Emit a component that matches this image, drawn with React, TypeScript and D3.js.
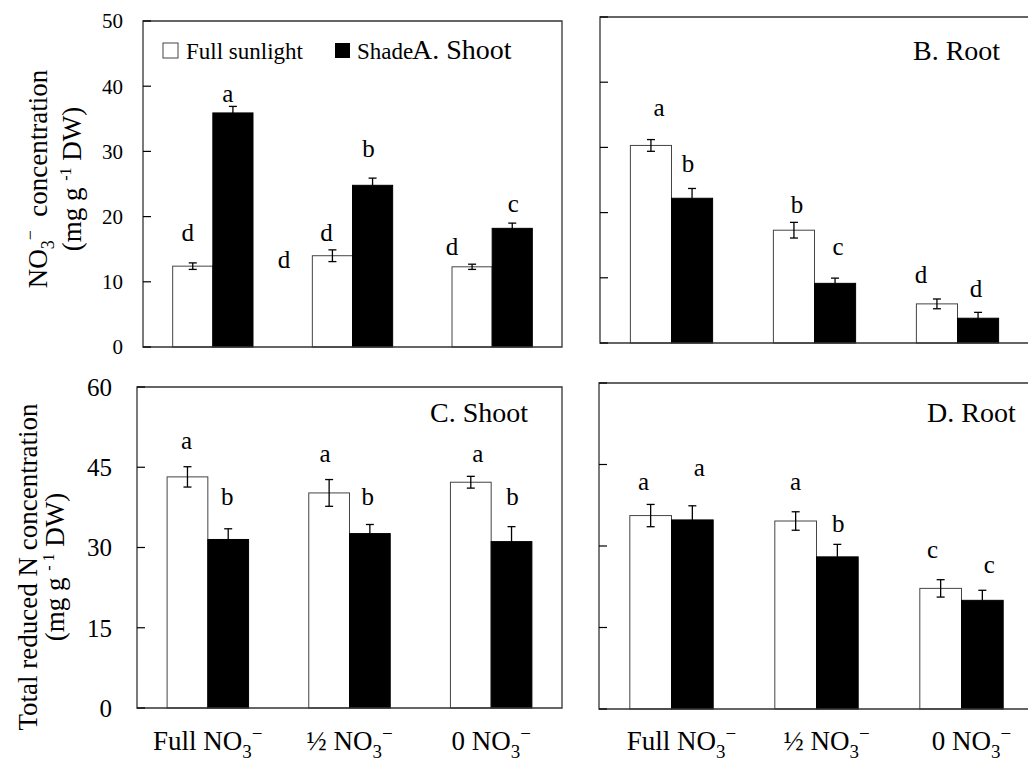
import React from 'react'
import * as d3 from 'd3'

const groups = ['Full', 'Half', 'Zero']

// A. Shoot nitrate (mg g-1 DW)
const sunA = [12.4, 14.0, 12.3]
const sunErrA = [0.5, 0.9, 0.4]
const shadeA = [35.9, 24.8, 18.2]
const shadeErrA = [1.0, 1.1, 0.8]

// B. Root nitrate
const sunB = [30.3, 17.3, 6.0]
const sunErrB = [0.9, 1.2, 0.75]
const shadeB = [22.2, 9.15, 3.8]
const shadeErrB = [1.5, 0.8, 0.9]

// C. Shoot total reduced N
const sunC = [43.2, 40.2, 42.2]
const sunErrC = [1.9, 2.5, 1.1]
const shadeC = [31.5, 32.6, 31.1]
const shadeErrC = [2.0, 1.7, 2.8]

// D. Root total reduced N
const sunD = [35.6, 34.6, 22.2]
const sunErrD = [2.05, 1.7, 1.6]
const shadeD = [34.8, 28.0, 20.0]
const shadeErrD = [2.6, 2.3, 1.85]

// significance letters: [group, series(0 sun / 1 shade), letter, level in data units]
type Letter = [number, number, string, number]
const lettersA: Letter[] = [
  [0, 0, 'd', 16.3], [0, 1, 'a', 37.6], [1, 0, 'd', 16.3],
  [1, 1, 'b', 29.1], [2, 0, 'd', 14.1], [2, 1, 'c', 20.7],
]
const lettersB: Letter[] = [
  [0, 0, 'a', 34.8], [0, 1, 'b', 26.3], [1, 0, 'b', 20.0],
  [1, 1, 'c', 13.5], [2, 0, 'd', 9.25], [2, 1, 'd', 7.1],
]
const lettersC: Letter[] = [
  [0, 0, 'a', 48.4], [0, 1, 'b', 37.9], [1, 0, 'a', 45.9],
  [1, 1, 'b', 37.9], [2, 0, 'a', 46.0], [2, 1, 'b', 37.9],
]
const lettersD: Letter[] = [
  [0, 0, 'a', 40.3], [0, 1, 'a', 42.8], [1, 0, 'a', 40.3],
  [1, 1, 'b', 32.6], [2, 0, 'c', 27.75], [2, 1, 'c', 25.1],
]
// nudges of the letters from bar centre (px), same order as above
const nudgeA = [-5, -5, -6, -4, -20, 1]
const nudgeB = [8, -4, 3, 3, -16, -2]
const nudgeC = [-1, -1, -4, -2, 7, 1]
const nudgeD = [-7, 7, 0, 1, -8, 7]

const ticksA = [0, 10, 20, 30, 40, 50]
const ticksC = [0, 15, 30, 45, 60]
const xPrefix = ['Full NO', '½ NO', '0  NO']

const FONT = "'Liberation Serif', 'Times New Roman', serif"

interface PanelProps {
  x: number
  y: number
  w: number
  h: number
  max: number
  ticks: number[]
  tickLabels: boolean
  tickGap: number
  tickSize: number
  sun: number[]
  sunErr: number[]
  shade: number[]
  shadeErr: number[]
  letters: Letter[]
  nudge: number[]
  title: string
  titleX: number
  titleY: number
  closed: boolean
  xLabels?: boolean
  xLabelShift?: number
}

const Panel: React.FC<PanelProps> = (p) => {
  const x0 = d3.scaleBand<string>().domain(groups).range([p.x, p.x + p.w]).paddingInner(0.425).paddingOuter(0.2125)
  const x1 = d3.scaleBand<number>().domain([0, 1]).range([0, x0.bandwidth()])
  const y = d3.scaleLinear().domain([0, p.max]).range([p.y + p.h, p.y])
  const series = [
    { vals: p.sun, errs: p.sunErr, fill: '#fff' },
    { vals: p.shade, errs: p.shadeErr, fill: '#000' },
  ]
  const cx = (g: number, s: number) => (x0(groups[g]) || 0) + (x1(s) || 0) + x1.bandwidth() / 2
  return (
    <g>
      {series.map((s, si) =>
        s.vals.map((v, gi) => (
          <rect
            key={`b${si}${gi}`}
            x={(x0(groups[gi]) || 0) + (x1(si) || 0)}
            y={y(v)}
            width={x1.bandwidth()}
            height={y(0) - y(v)}
            fill={s.fill}
            stroke={si === 0 ? '#444' : '#000'}
            strokeWidth={1}
          />
        )),
      )}
      {series.map((s, si) =>
        s.vals.map((v, gi) => {
          const c = cx(gi, si)
          const lo = y(v - s.errs[gi])
          const hi = y(v + s.errs[gi])
          return (
            <g key={`e${si}${gi}`} stroke="#000" strokeWidth={1.3}>
              <line x1={c} x2={c} y1={si === 0 ? lo : y(v)} y2={hi} />
              <line x1={c - 4} x2={c + 4} y1={hi} y2={hi} />
              {si === 0 && <line x1={c - 4} x2={c + 4} y1={lo} y2={lo} />}
            </g>
          )
        }),
      )}
      {p.letters.map((l, i) => (
        <text key={`l${i}`} x={cx(l[0], l[1]) + p.nudge[i]} y={y(l[3])} textAnchor="middle" fontSize={25}>
          {l[2]}
        </text>
      ))}
      {/* frame */}
      <path
        d={
          p.closed
            ? `M${p.x},${p.y}H${p.x + p.w}V${p.y + p.h}H${p.x}Z`
            : `M${p.x + p.w + 20},${p.y}H${p.x}V${p.y + p.h}H${p.x + p.w + 20}`
        }
        fill="none"
        stroke="#333"
        strokeWidth={1.3}
      />
      {p.ticks.map((t) => (
        <g key={`t${t}`}>
          <line x1={p.x} x2={p.x + 8} y1={y(t)} y2={y(t)} stroke="#000" strokeWidth={1.2} />
          {p.tickLabels && (
            <text x={p.x - p.tickGap} y={y(t)} dy="0.35em" textAnchor="end" fontSize={p.tickSize}>
              {t}
            </text>
          )}
        </g>
      ))}
      <text x={p.titleX} y={p.titleY} fontSize={28}>
        {p.title}
      </text>
      {p.xLabels &&
        groups.map((g, i) => (
          <text key={`x${g}`} x={(x0(g) || 0) + x0.bandwidth() / 2 + (p.xLabelShift || 0)} y={750} textAnchor="middle" fontSize={27}>
            {xPrefix[i]}
            <tspan fontSize={19} dy={8}>3</tspan>
            <tspan fontSize={19} dy={-18}>−</tspan>
          </text>
        ))}
    </g>
  )
}

export default function App() {
  return (
    <svg
      width={1028}
      height={762}
      style={{ position: 'absolute', left: 0, top: 0, background: '#fff', fontFamily: FONT }}
      fill="#000"
    >
      <Panel
        x={143} y={21} w={419} h={326} max={50} ticks={ticksA} tickLabels tickGap={20} tickSize={21}
        sun={sunA} sunErr={sunErrA} shade={shadeA} shadeErr={shadeErrA}
        letters={lettersA} nudge={nudgeA} title="A. Shoot" titleX={412} titleY={59} closed
      />
      {/* stray letter between the first two groups */}
      <text x={284} y={268} textAnchor="middle" fontSize={25}>d</text>
      {/* legend */}
      <rect x={163} y={43} width={15} height={15} fill="#fff" stroke="#444" strokeWidth={1} />
      <text x={186} y={59} fontSize={23}>Full sunlight</text>
      <rect x={335} y={43} width={15} height={15} fill="#000" />
      <text x={357} y={59} fontSize={23}>Shade</text>

      <Panel
        x={600} y={17} w={429} h={326} max={50} ticks={ticksA} tickLabels={false} tickGap={20} tickSize={21}
        sun={sunB} sunErr={sunErrB} shade={shadeB} shadeErr={shadeErrB}
        letters={lettersB} nudge={nudgeB} title="B. Root" titleX={913} titleY={60} closed={false}
      />
      <Panel
        x={137} y={387} w={425} h={321} max={60} ticks={ticksC} tickLabels tickGap={25} tickSize={25}
        sun={sunC} sunErr={sunErrC} shade={shadeC} shadeErr={shadeErrC}
        letters={lettersC} nudge={nudgeC} title="C. Shoot" titleX={430} titleY={422} closed
        xLabels xLabelShift={0}
      />
      <Panel
        x={599} y={383} w={435} h={326} max={60} ticks={ticksC} tickLabels={false} tickGap={20} tickSize={25}
        sun={sunD} sunErr={sunErrD} shade={shadeD} shadeErr={shadeErrD}
        letters={lettersD} nudge={nudgeD} title="D. Root" titleX={927} titleY={422} closed={false}
        xLabels xLabelShift={10}
      />

      {/* y axis titles */}
      <text transform="translate(47,179) rotate(-90)" textAnchor="middle" fontSize={27}>
        NO<tspan fontSize={18} dy={7}>3</tspan>
        <tspan fontSize={18} dy={-18}>−</tspan>
        <tspan dy={11}>{'\u00a0\u00a0concentration'}</tspan>
      </text>
      <text transform="translate(81,179) rotate(-90)" textAnchor="middle" fontSize={27}>
        (mg g <tspan fontSize={16} dy={-10}>-1</tspan>
        <tspan dy={10}> DW)</tspan>
      </text>
      <text transform="translate(37,567) rotate(-90)" textAnchor="middle" fontSize={27}>
        Total reduced N concentration
      </text>
      <text transform="translate(64,567) rotate(-90)" textAnchor="middle" fontSize={27}>
        (mg g <tspan fontSize={16} dy={-10}>- 1</tspan>
        <tspan dy={10}> DW)</tspan>
      </text>
    </svg>
  )
}
